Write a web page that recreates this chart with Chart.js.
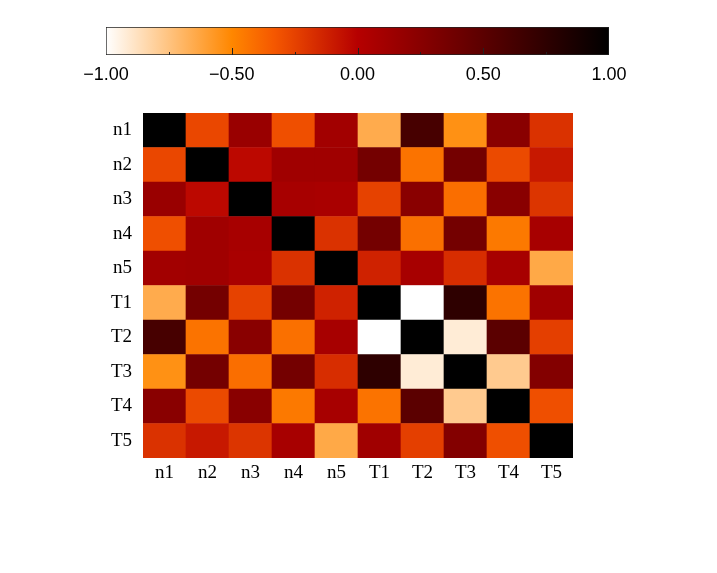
<!DOCTYPE html>
<html>
<head>
<meta charset="utf-8">
<script src="https://cdn.jsdelivr.net/npm/chart.js@4"></script>
<style>
  html, body { margin: 0; padding: 0; background: #fff; }
  #wrap { position: relative; width: 717px; height: 573px; }
  #bar { position: absolute; left: 0; top: 0; }
  #heat { position: absolute; left: 0; top: 0; }
</style>
</head>
<body>
<div id="wrap">
  <canvas id="heat" width="717" height="573"></canvas>
  <canvas id="bar" width="717" height="100"></canvas>
</div>
<script>
// variables, top to bottom / left to right
const labels = ["n1", "n2", "n3", "n4", "n5", "T1", "T2", "T3", "T4", "T5"];

// correlation rows
const rowN1 = [1, -0.27, 0.16, -0.30, 0.11, -0.65, 0.61, -0.54, 0.25, -0.19];
const rowN2 = [-0.27, 1, -0.03, 0.12, 0.12, 0.36, -0.43, 0.36, -0.28, -0.09];
const rowN3 = [0.16, -0.03, 1, 0.08, 0.07, -0.25, 0.25, -0.41, 0.25, -0.20];
const rowN4 = [-0.30, 0.12, 0.08, 1, -0.19, 0.36, -0.42, 0.36, -0.45, 0.08];
const rowN5 = [0.11, 0.12, 0.07, -0.19, 1, -0.13, 0.08, -0.17, 0.08, -0.64];
const rowT1 = [-0.65, 0.36, -0.25, 0.36, -0.13, 1, -1, 0.75, -0.43, 0.12];
const rowT2 = [0.61, -0.43, 0.25, -0.42, 0.08, -1, 1, -0.92, 0.50, -0.24];
const rowT3 = [-0.54, 0.36, -0.41, 0.36, -0.17, 0.75, -0.92, 1, -0.78, 0.28];
const rowT4 = [0.25, -0.28, 0.25, -0.45, 0.08, -0.43, 0.50, -0.78, 1, -0.30];
const rowT5 = [-0.19, -0.09, -0.20, 0.08, -0.64, 0.12, -0.24, 0.28, -0.30, 1];

const colorbarTicks = [-1, -0.75, -0.5, -0.25, 0, 0.25, 0.5, 0.75, 1];
const colorbarLabelled = [-1, -0.5, 0, 0.5, 1];

const rows = [rowN1, rowN2, rowN3, rowN4, rowN5, rowT1, rowT2, rowT3, rowT4, rowT5];

// reversed heat colormap (white -> orange -> red -> black)
const cmapStops = [
  [-1, 255, 255, 255],
  [-0.5, 255, 135, 0],
  [-1 / 3, 245, 88, 0],
  [-0.25, 230, 66, 0],
  [0, 182, 0, 0],
  [1, 0, 0, 0],
];

function heat(v) {
  v = Math.max(-1, Math.min(1, v));
  for (let i = 1; i < cmapStops.length; i++) {
    const a = cmapStops[i - 1], b = cmapStops[i];
    if (v <= b[0]) {
      const t = (v - a[0]) / (b[0] - a[0]);
      const c = (k) => Math.round(a[k] + (b[k] - a[k]) * t);
      return `rgb(${c(1)},${c(2)},${c(3)})`;
    }
  }
  return "rgb(0,0,0)";
}

const serif = "'Liberation Serif', 'Times New Roman', serif";
const sans = "'Liberation Sans', Arial, sans-serif";

// stacked bars, first dataset at the bottom -> reverse rows
const datasets = rows.slice().reverse().map((row, i) => ({
  label: labels[labels.length - 1 - i],
  data: row.map(() => 1),
  backgroundColor: row.map(heat),
  borderWidth: 0,
  barPercentage: 1,
  categoryPercentage: 1,
}));

new Chart(document.getElementById("heat"), {
  type: "bar",
  data: { labels: labels, datasets: datasets },
  options: {
    responsive: false,
    animation: false,
    events: [],
    layout: { padding: { left: 103, top: 113, right: 144, bottom: 85 } },
    plugins: { legend: { display: false }, tooltip: { enabled: false } },
    scales: {
      x: {
        stacked: true,
        grid: { display: false },
        border: { display: false },
        ticks: { color: "#000", font: { family: serif, size: 19 }, padding: -4 },
        afterFit: (s) => { s.height = 30; },
      },
      y: {
        stacked: true,
        min: 0,
        max: 10,
        grid: { display: false },
        border: { display: false },
        afterBuildTicks: (s) => {
          s.ticks = labels.map((_, i) => ({ value: i + 0.5 }));
        },
        ticks: {
          color: "#000",
          font: { family: serif, size: 19 },
          padding: 3,
          callback: (v) => labels[labels.length - 1 - Math.floor(v)],
        },
        afterFit: (s) => { s.width = 40; },
      },
    },
  },
});

// colorbar tick marks, drawn upward from the bottom edge
const cbTickMarks = {
  id: "cbTickMarks",
  afterDatasetsDraw(chart) {
    const ctx = chart.ctx;
    const xs = chart.scales.x;
    const bottom = chart.chartArea.bottom;
    ctx.save();
    ctx.strokeStyle = "#222";
    ctx.lineWidth = 1;
    colorbarTicks.forEach((v) => {
      if (v === -1 || v === 1) return;
      const px = Math.round(xs.getPixelForValue(v)) + 0.5;
      const len = colorbarLabelled.includes(v) ? 7 : 3;
      ctx.beginPath();
      ctx.moveTo(px, bottom);
      ctx.lineTo(px, bottom - len);
      ctx.stroke();
    });
    ctx.restore();
  },
};

new Chart(document.getElementById("bar"), {
  type: "bar",
  data: {
    labels: ["r"],
    datasets: [{
      data: [[-1, 1]],
      backgroundColor: (ctx) => {
        const area = ctx.chart.chartArea;
        if (!area) return "#fff";
        const g = ctx.chart.ctx.createLinearGradient(area.left, 0, area.right, 0);
        cmapStops.forEach((s) => g.addColorStop((s[0] + 1) / 2, heat(s[0])));
        return g;
      },
      borderColor: "#222",
      borderWidth: 1,
      borderSkipped: false,
      barPercentage: 1,
      categoryPercentage: 1,
    }],
  },
  options: {
    indexAxis: "y",
    responsive: false,
    animation: false,
    events: [],
    layout: { padding: { left: 106, right: 108, top: 27, bottom: 0 } },
    plugins: { legend: { display: false }, tooltip: { enabled: false } },
    scales: {
      x: {
        type: "linear",
        min: -1,
        max: 1,
        grid: { display: false, drawTicks: false },
        border: { display: false },
        afterBuildTicks: (s) => {
          s.ticks = colorbarLabelled.map((v) => ({ value: v }));
        },
        ticks: {
          color: "#000",
          font: { family: sans, size: 18 },
          padding: 9,
          maxRotation: 0,
          autoSkip: false,
          callback: (v) => (v < 0 ? "\u2212" + Math.abs(v).toFixed(2) : v.toFixed(2)),
        },
        afterFit: (s) => { s.height = 45; },
      },
      y: { display: false },
    },
  },
  plugins: [cbTickMarks],
});
</script>
</body>
</html>
